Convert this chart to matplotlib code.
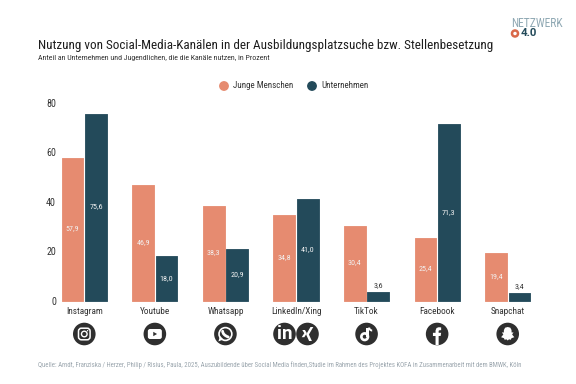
import matplotlib
matplotlib.use("Agg")
import matplotlib.pyplot as plt
from matplotlib import font_manager as fm
from matplotlib.patches import Circle, FancyBboxPatch, Polygon, Wedge, PathPatch
from matplotlib.path import Path

categories = ["Instagram", "Youtube", "Whatsapp", "LinkedIn/Xing", "TikTok", "Facebook", "Snapchat"]
jugend = [57.9, 46.9, 38.3, 34.8, 30.4, 25.4, 19.4]
unternehmen = [75.6, 18.0, 20.9, 41.0, 3.6, 71.3, 3.4]
yticks = [0, 20, 40, 60, 80]
series_names = ["Junge Menschen", "Unternehmen"]
title = "Nutzung von Social-Media-Kanälen in der Ausbildungsplatzsuche bzw. Stellenbesetzung"
subtitle = "Anteil an Unternehmen und Jugendlichen, die die Kanäle nutzen, in Prozent"
source = ("Quelle: Arndt, Franziska / Herzer, Philip / Risius, Paula, 2025, Auszubildende über Social Media finden,"
          "Studie im Rahmen des Projektes KOFA in Zusammenarbeit mit dem BMWK, Köln")

ORANGE = "#E68B70"
NAVY = "#234A5A"
DARK = "#333333"


def make_condensed():
    """Make a condensed copy of Roboto (the reference uses a condensed face)."""
    try:
        from fontTools.ttLib import TTFont
        from fontTools.varLib import instancer
        path = fm.findfont(fm.FontProperties(family="Roboto"))
        font = TTFont(path)
        if "fvar" in font:
            axes = {a.axisTag: a.defaultValue for a in font["fvar"].axes}
            if "wght" in axes:
                axes["wght"] = 400
            has_wdth = "wdth" in axes
            if has_wdth:
                axes["wdth"] = 75
            font = instancer.instantiateVariableFont(font, axes)
        else:
            has_wdth = False
        if not has_wdth:
            k = 0.8
            glyf = font["glyf"]
            hmtx = font["hmtx"]
            for name in font.getGlyphOrder():
                g = glyf[name]
                if g.isComposite():
                    for comp in g.components:
                        comp.x = int(comp.x * k)
                elif g.numberOfContours > 0:
                    g.coordinates.scale((k, 1))
                    g.coordinates.toInt()
                adv, lsb = hmtx[name]
                hmtx[name] = (int(adv * k), int(lsb * k))
            for name in font.getGlyphOrder():
                glyf[name].recalcBounds(glyf)
        for rec in font["name"].names:
            if rec.nameID in (1, 4, 16):
                rec.string = "RobotoCondX"
            elif rec.nameID == 6:
                rec.string = "RobotoCondX-Regular"
            elif rec.nameID in (2, 17):
                rec.string = "Regular"
        font.save("roboto_cond.ttf")
        fm.fontManager.addfont("roboto_cond.ttf")
        return "RobotoCondX"
    except Exception as e:
        print("condense failed", e)
        return "Roboto"


FONT = make_condensed()
plt.rcParams["font.family"] = [FONT, "DejaVu Sans"]
W, H = 576, 384
fig = plt.figure(figsize=(W / 100, H / 100), dpi=100, facecolor="white")


def rect(l, t, r, b):
    return [l / W, 1 - b / H, (r - l) / W, (b - t) / H]


ax = fig.add_axes(rect(49, 102.8, 543, 301))
ax.set_xlim(-0.5, 6.5)
ax.set_ylim(0, 80)
bw = 0.308
gap = 0.012
xs = list(range(len(categories)))
for vals, col, sign in ((jugend, ORANGE, -1), (unternehmen, NAVY, 1)):
    pos = [x + sign * (bw / 2 + gap) for x in xs]
    ax.bar(pos, vals, width=bw, color=col, edgecolor=col, linewidth=0.6, joinstyle="round", clip_on=False)
    for p, v in zip(pos, vals):
        label = f"{v:.1f}".replace(".", ",")
        if v < 6:
            ax.text(p, v + 1.4, label, ha="center", va="bottom", fontsize=5.8, color=DARK)
        else:
            ax.text(p, v / 2 + 0.4, label, ha="center", va="center", fontsize=5.8, color="#F2F2F2")
for s in ax.spines.values():
    s.set_visible(False)
ax.set_xticks(xs, categories, fontsize=6.7, color=DARK)
ax.set_yticks(yticks, [str(t) for t in yticks], fontsize=7.2, color=DARK)
ax.tick_params(length=0)
ax.tick_params(axis="x", pad=4)
ax.tick_params(axis="y", pad=-5)

ov = fig.add_axes([0, 0, 1, 1], zorder=5)
ov.set_xlim(0, W)
ov.set_ylim(H, 0)
ov.axis("off")
ov.patch.set_alpha(0)

ov.text(38, 46, title, fontsize=9.42, color="#1E1E1E", va="center", ha="left")
ov.text(38, 58, subtitle, fontsize=5.65, color="#333333", va="center", ha="left")
ov.text(38, 365, source, fontsize=4.9, color="#9AA5AD", va="center", ha="left")

ov.add_patch(Circle((224, 86), 4.2, color=ORANGE))
ov.text(233, 86, series_names[0], fontsize=6.5, color=DARK, va="center")
ov.add_patch(Circle((312, 86), 4.2, color=NAVY))
ov.text(321, 86, series_names[1], fontsize=6.5, color=DARK, va="center")

# logo
ov.text(511, 23.5, "NETZWERK", fontsize=8.3, color="#8FA8B3", va="center", ha="left")
ov.add_patch(Circle((515, 33.5), 3.0, facecolor="none", edgecolor="#D9694A", linewidth=1.8))
ov.text(521, 33.5, "4.0", fontsize=8.2, fontweight="bold", color=NAVY, va="center", ha="left", family="Roboto")

# icons
IC = "#2F2F2F"
Y = 334
R = 11.3


def base(cx):
    ov.add_patch(Circle((cx, Y), R, color=IC, lw=0))


def px(i):
    return ax.transData.transform((i, 0))[0]


c = px(0); base(c)
ov.add_patch(FancyBboxPatch((c - 5.8, Y - 5.8), 11.6, 11.6, boxstyle="round,pad=0,rounding_size=3", fc="none", ec="white", lw=1.1))
ov.add_patch(Circle((c, Y), 2.8, fc="none", ec="white", lw=1.0))
ov.add_patch(Circle((c + 3.3, Y - 3.3), 0.7, color="white", lw=0))

c = px(1); base(c)
ov.add_patch(FancyBboxPatch((c - 7, Y - 5), 14, 10, boxstyle="round,pad=0,rounding_size=2.2", fc="white", ec="none"))
ov.add_patch(Polygon([(c - 1.6, Y - 2.2), (c - 1.6, Y + 2.2), (c + 2.2, Y)], color=IC, lw=0))

c = px(2); base(c)
ov.add_patch(Circle((c, Y), 6.4, fc="none", ec="white", lw=1.2))
ov.add_patch(Polygon([(c - 7, Y + 7.4), (c - 5.4, Y + 2), (c - 2, Y + 5.4)], color="white", lw=0))
ov.add_patch(PathPatch(Path([(c - 2.8, Y - 2.8), (c - 2.6, Y + 1), (c + 2.8, Y + 3)], [Path.MOVETO, Path.CURVE3, Path.CURVE3]),
                       fc="none", ec="white", lw=2, capstyle="round"))

c = px(3)
base(c - 11.5)
ov.text(c - 11.5, Y + 0.2, "in", fontsize=13.5, fontweight="bold", color="white", ha="center", va="center", family="Roboto")
base(c + 11.5)
x0 = c + 11.5
ov.add_patch(Polygon([(x0 - 5.2, Y - 4), (x0 - 2.6, Y - 4), (x0 - 0.6, Y - 0.8), (x0 - 3.2, Y + 3.2), (x0 - 5.8, Y + 3.2), (x0 - 3.2, Y - 0.8)], color="white", lw=0))
ov.add_patch(Polygon([(x0 + 3, Y - 7), (x0 + 5.8, Y - 7), (x0 + 1.4, Y + 0.5), (x0 + 4.4, Y + 7), (x0 + 1.6, Y + 7), (x0 - 1.4, Y + 0.5)], color="white", lw=0))

c = px(4); base(c)
ov.add_patch(Polygon([(c - 0.3, Y - 6.5), (c + 2, Y - 6.5), (c + 2, Y + 2.8), (c - 0.3, Y + 2.8)], color="white", lw=0))
ov.add_patch(Circle((c - 1.9, Y + 2.7), 3.3, fc="none", ec="white", lw=1.9))
ov.add_patch(Wedge((c + 5.6, Y - 6.5), 4.0, 90, 180, width=2.0, color="white", lw=0))

c = px(5); base(c)
ov.add_patch(Polygon([(c - 1.6, Y + 11), (c - 1.6, Y + 2), (c - 4.2, Y + 2), (c - 4.2, Y - 1.2), (c - 1.6, Y - 1.2),
                      (c - 1.6, Y - 3.5), (c - 0.6, Y - 6), (c + 1.6, Y - 6.8), (c + 4, Y - 6.6), (c + 4, Y - 3.8),
                      (c + 2.5, Y - 3.8), (c + 1.5, Y - 3.2), (c + 1.5, Y - 1.2), (c + 4, Y - 1.2), (c + 3.5, Y + 2),
                      (c + 1.5, Y + 2), (c + 1.5, Y + 11)], color="white", lw=0))

c = px(6); base(c)
ov.add_patch(Polygon([(c, Y - 7), (c + 2.6, Y - 6.3), (c + 3.8, Y - 4), (c + 3.9, Y - 1.5), (c + 5.8, Y - 1.6), (c + 4.4, Y + 0.5),
                      (c + 6.6, Y + 3.2), (c + 3.8, Y + 4.2), (c + 3, Y + 5.8), (c + 1.3, Y + 5.3), (c, Y + 6.5), (c - 1.3, Y + 5.3),
                      (c - 3, Y + 5.8), (c - 3.8, Y + 4.2), (c - 6.6, Y + 3.2), (c - 4.4, Y + 0.5), (c - 5.8, Y - 1.6), (c - 3.9, Y - 1.5),
                      (c - 3.8, Y - 4), (c - 2.6, Y - 6.3)], color="white", lw=0, joinstyle="round"))

fig.savefig("out.png", dpi=100)
